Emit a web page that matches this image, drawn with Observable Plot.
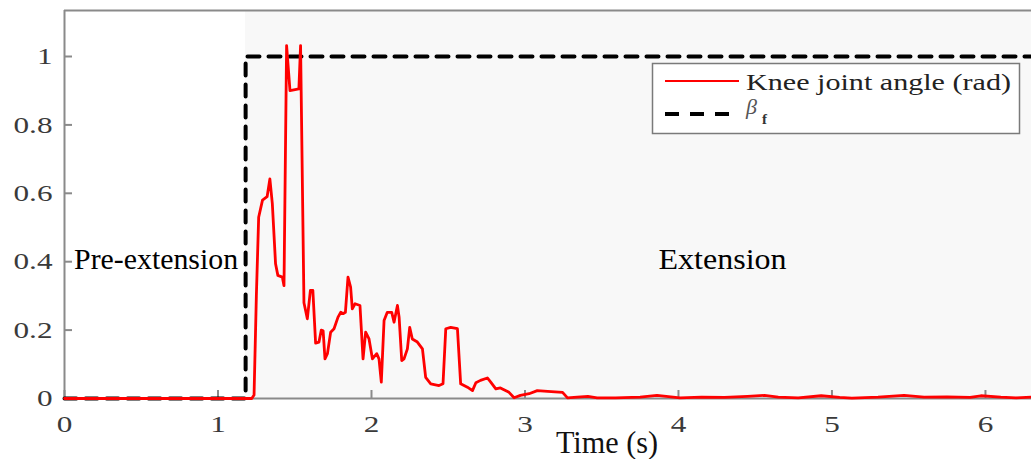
<!DOCTYPE html>
<html><head><meta charset="utf-8">
<script src="https://cdn.jsdelivr.net/npm/d3@7"></script>
<script src="https://cdn.jsdelivr.net/npm/@observablehq/plot@0.6"></script>
<style>html,body{margin:0;padding:0;background:#fff;overflow:hidden}</style>
</head><body><div id="chart"></div>
<script>
// ---- data ----
const timeS = [0,1.22,1.235,1.25,1.265,1.29,1.32,1.338,1.354,1.375,1.39,1.419,1.43,1.447,1.469,1.527,1.538,1.56,1.582,1.602,1.618,1.636,1.658,1.673,1.685,1.697,1.713,1.734,1.756,1.782,1.80,1.815,1.83,1.847,1.864,1.875,1.893,1.925,1.945,1.962,1.984,2.006,2.034,2.049,2.064,2.082,2.103,2.132,2.147,2.169,2.18,2.197,2.212,2.234,2.249,2.266,2.299,2.332,2.353,2.386,2.44,2.466,2.484,2.516,2.56,2.581,2.625,2.658,2.68,2.71,2.755,2.777,2.81,2.84,2.896,2.929,2.97,3.027,3.08,3.147,3.245,3.277,3.34,3.41,3.47,3.59,3.75,3.86,4.01,4.15,4.3,4.45,4.56,4.65,4.78,4.93,5.05,5.13,5.3,5.47,5.6,5.75,5.9,5.97,6.1,6.2,6.3];
const kneeAngle = [0,0,0.01,0.30,0.53,0.58,0.59,0.642,0.57,0.394,0.36,0.355,0.33,1.032,0.90,0.905,1.032,0.28,0.233,0.316,0.316,0.162,0.165,0.2,0.198,0.116,0.131,0.194,0.204,0.238,0.252,0.248,0.252,0.355,0.326,0.262,0.277,0.272,0.116,0.194,0.174,0.116,0.131,0.116,0.048,0.228,0.252,0.252,0.223,0.272,0.238,0.111,0.116,0.145,0.208,0.174,0.165,0.145,0.062,0.043,0.038,0.043,0.204,0.208,0.204,0.043,0.033,0.023,0.046,0.053,0.06,0.048,0.028,0.031,0.018,0.002,0.009,0.014,0.023,0.021,0.018,0.002,0.004,0.006,0.002,0.002,0.004,0.009,0.002,0.004,0.003,0.006,0.009,0.004,0.002,0.008,0.003,0.001,0.004,0.009,0.004,0.005,0.003,0.008,0.004,0.002,0.004];
const betaTime = [0, 1.18, 1.18, 6.3];
const betaValue = [0, 0, 1, 1];
const phaseNames = ["Pre-extension", "Extension"];
const phaseStart = [0, 1.18];
const phaseEnd = [1.18, 6.3];
const xTicks = [0, 1, 2, 3, 4, 5, 6];
const yTicks = [0, 0.2, 0.4, 0.6, 0.8, 1];
const seriesLabels = ["Knee joint angle (rad)", "β_f"];
const xLabel = "Time (s)";
const xMax = 6.3, yMax = 1.1345;

// ---- build ----
const knee = timeS.map((t, i) => ({t, v: kneeAngle[i]}));
const beta = betaTime.map((t, i) => ({t, v: betaValue[i]}));
const phases = phaseNames.map((name, i) => ({name, start: phaseStart[i], end: phaseEnd[i]}));
const mid = d => (d.start + d.end) / 2;
const axisGray = "#8a8a8a";

const chart = Plot.plot({
  width: 1031, height: 459,
  marginLeft: 64, marginRight: 0, marginTop: 10, marginBottom: 61,
  x: {domain: [0, xMax]},
  y: {domain: [0, yMax]},
  style: {fontFamily: "'Liberation Serif', serif", background: "white", overflow: "visible"},
  marks: [
    Plot.rect(phases, {filter: d => d.name === "Extension", x1: "start", x2: "end", fill: "#f8f8f8"}),
    Plot.ruleX([0], {stroke: axisGray, strokeWidth: 2}),
    Plot.ruleY([0], {stroke: axisGray, strokeWidth: 2}),
    Plot.ruleY([yMax], {stroke: axisGray, strokeWidth: 2}),
    Plot.axisY(yTicks, {tickSize: -8, tickPadding: 20, stroke: axisGray, strokeWidth: 2, fill: "#3a3a3a", fontSize: 24, tickFormat: d => String(d), label: null}),
    Plot.axisX(xTicks, {tickSize: -8, tickPadding: 24, stroke: axisGray, strokeWidth: 2, fill: "#3a3a3a", fontSize: 24, tickFormat: d => String(d), label: null}),
    Plot.line(beta, {x: "t", y: "v", stroke: "black", strokeWidth: 4, strokeDasharray: "12,9"}),
    Plot.line(knee, {x: "t", y: "v", stroke: "#ff0000", strokeWidth: 2.8, strokeLinejoin: "round"}),
    Plot.text(phases.filter(d => d.name === "Pre-extension"), {x: mid, frameAnchor: "middle", dy: 55, dx: 1, text: "name", fontSize: 30, fill: "black", lineAnchor: "middle"}),
    Plot.text(phases.filter(d => d.name === "Extension"), {x: mid, frameAnchor: "middle", dy: 55, dx: 84, text: "name", fontSize: 30, fill: "black", lineAnchor: "middle"}),
    Plot.text([xLabel], {frameAnchor: "bottom", dx: 59, dy: 44, text: d => d, fontSize: 32, fill: "#111", lineAnchor: "middle"})
  ]
});
document.getElementById("chart").appendChild(chart);

const svg = d3.select(chart);
// widen tick labels to match the stretched reference
svg.selectAll('g[aria-label="y-axis tick label"] text, g[aria-label="x-axis tick label"] text').each(function() {
  const L = this.getComputedTextLength();
  this.setAttribute("textLength", L * 1.3);
  this.setAttribute("lengthAdjust", "spacingAndGlyphs");
});
const fitWidths = {"Time (s)": 102, "Pre-extension": 164, "Extension": 128};
svg.selectAll('g[aria-label="text"] text').each(function() {
  const w = fitWidths[this.textContent];
  if (w) {
    this.setAttribute("textLength", w);
    this.setAttribute("lengthAdjust", "spacingAndGlyphs");
  }
});

// legend
const lg = svg.append("g").attr("font-family", "'Liberation Serif', serif").attr("text-anchor", "start");
lg.append("rect").attr("x", 652.5).attr("y", 63.5).attr("width", 367).attr("height", 70)
  .attr("fill", "white").attr("stroke", "#7a7a7a").attr("stroke-width", 1.5);
lg.append("line").attr("x1", 665).attr("x2", 739).attr("y1", 81).attr("y2", 81)
  .attr("stroke", "#ff0000").attr("stroke-width", 2.2);
lg.append("text").attr("x", 746).attr("y", 90).attr("font-size", 22.5).attr("fill", "#222")
  .attr("text-anchor", "start")
  .attr("textLength", 265).attr("lengthAdjust", "spacingAndGlyphs").text(seriesLabels[0]);
lg.append("line").attr("x1", 665).attr("x2", 735).attr("y1", 114).attr("y2", 114)
  .attr("stroke", "black").attr("stroke-width", 4).attr("stroke-dasharray", "14,11");
const [sym, sub] = seriesLabels[1].split("_");
const bt = lg.append("text").attr("x", 746).attr("y", 114).attr("font-size", 22).attr("fill", "#555").attr("text-anchor", "start");
bt.append("tspan").attr("font-style", "italic").text(sym);
bt.append("tspan").attr("dx", 5).attr("dy", 10).attr("font-size", 15).attr("fill", "#333").attr("font-weight", "bold").text(sub);
</script>
</body></html>
